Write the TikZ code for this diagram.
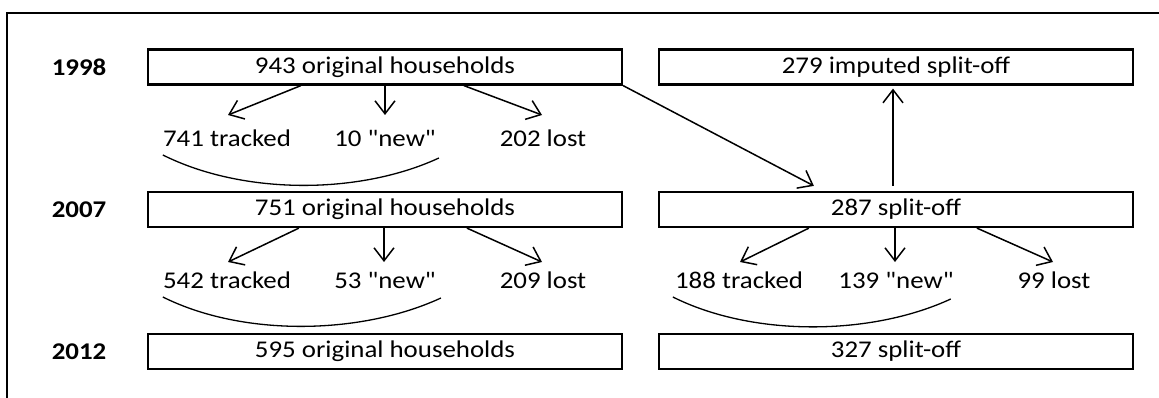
\documentclass[tikz,border=0pt]{standalone}
\usepackage{fontspec}
\setmainfont{Carlito}[FakeStretch=1.12]
\newfontfamily\qfont{Carlito}[FakeStretch=1.12]
\usetikzlibrary{arrows.meta,calc}
\newcommand{\qd}{{\qfont"}}
\begin{document}
\begin{tikzpicture}[x=1pt,y=-1pt,
  txt/.style={font=\fontsize{24}{29}\selectfont},
  box/.style={txt, draw, line width=2.2pt, minimum width=474pt, minimum height=35pt, inner sep=0pt},
  lbl/.style={txt, inner sep=0pt, anchor=base},
  yr/.style={txt, inner sep=0pt, font=\fontsize{24}{29}\selectfont\bfseries},
  arr/.style={-{Straight Barb[length=13pt,width=20pt]}, line width=1.5pt},
  brace/.style={line width=1.3pt}]
\useasboundingbox (0,0) rectangle (1159,398);
% frame
\draw[line width=2pt] (1159,13) -- (7,13) -- (7,398);

% years
\node[yr] (y98) at (79,67) {1998};
\node[yr] (y07) at (79,209.5) {2007};
\node[yr] (y12) at (79,351.5) {2012};

% boxes
\node[box] (b98) at (385,67) {943 original households};
\node[box] (b07) at (385,209.5) {751 original households};
\node[box] (b12) at (385,351.5) {595 original households};
\node[box] (r98) at (896,67) {279 imputed split-off};
\node[box] (r07) at (896,209.5) {287 split-off};
\node[box] (r12) at (896,351.5) {327 split-off};

% row 1 labels
\node[lbl] (t741) at (227,147) {741 tracked};
\node[lbl] (n10) at (385,147) {10 \qd new\qd};
\node[lbl] (l202) at (543,147) {202 lost};
% row 2 labels
\node[lbl] (t542) at (227,288) {542 tracked};
\node[lbl] (n53) at (385,288) {53 \qd new\qd};
\node[lbl] (l209) at (543,288) {209 lost};
\node[lbl] (t188) at (739,288) {188 tracked};
\node[lbl] (n139) at (896,288) {139 \qd new\qd};
\node[lbl] (l99) at (1054,288) {99 lost};

% arrows 1998
\draw[arr] ($(b98.south west)+(154,0)$) -- ($(t741.base)+(1,-32)$);
\draw[arr] (b98.south) -- ($(n10.base)+(0,-32)$);
\draw[arr] ($(b98.south west)+(317,0)$) -- ($(l202.base)+(-1,-32)$);
\draw[arr] (b98.south east) -- ($(r07.north west)+(156,-5)$);
\draw[arr] ($(r07.north)+(-3,-5)$) -- ($(r98.south)+(-3,3)$);

% arrows 2007 left
\draw[arr] ($(b07.south west)+(152,0)$) -- ($(t542.base)+(1,-26)$);
\draw[arr] ($(b07.south)+(-1,0)$) -- ($(n53.base)+(-1,-26)$);
\draw[arr] ($(b07.south west)+(320,0)$) -- ($(l209.base)+(-1,-26)$);
% arrows 2007 right
\draw[arr] ($(r07.south west)+(151,0)$) -- ($(t188.base)+(1,-26)$);
\draw[arr] ($(r07.south)+(-1,0)$) -- ($(n139.base)+(-1,-26)$);
\draw[arr] ($(r07.south west)+(319,0)$) -- ($(l99.base)+(-1,-26)$);

% braces
\draw[brace] ($(t741.base west)+(0,8)$) .. controls +(80,40) and +(-80,37) .. ($(n10.base east)+(3,11)$);
\draw[brace] ($(t542.base west)+(0,9)$) .. controls +(80,40) and +(-80,37) .. ($(n53.base east)+(5,10)$);
\draw[brace] ($(t188.base west)+(-2,9)$) .. controls +(80,40) and +(-80,37) .. ($(n139.base east)+(-3,11)$);
\end{tikzpicture}
\end{document}
